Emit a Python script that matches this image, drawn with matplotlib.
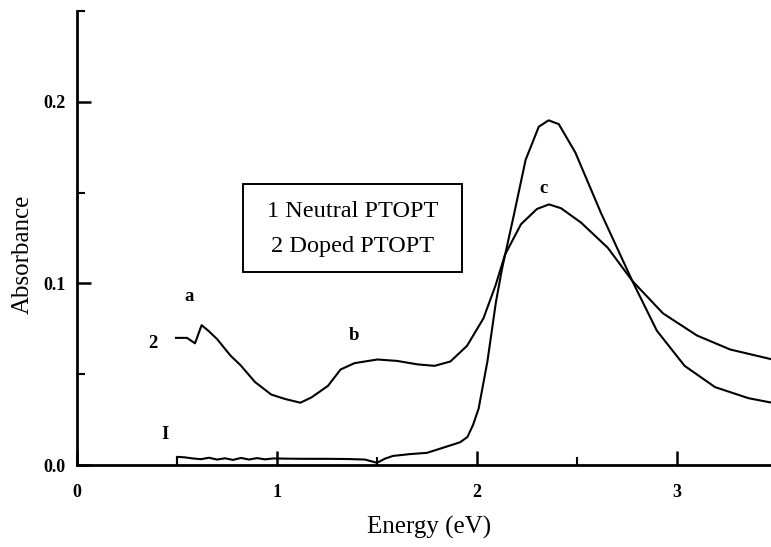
import matplotlib
matplotlib.use("Agg")
import matplotlib.pyplot as plt
from matplotlib.patches import Rectangle
from matplotlib.ticker import FixedLocator

# absorption spectra, energy in eV
neutral_x = [0.50, 0.50, 0.54, 0.58, 0.62, 0.66, 0.70, 0.74, 0.78, 0.82, 0.86, 0.90, 0.94,
             0.98, 1.05, 1.15, 1.25, 1.35, 1.44, 1.50, 1.54, 1.58, 1.665, 1.75, 1.83, 1.915,
             1.952, 1.98, 2.008, 2.052, 2.095, 2.126, 2.185, 2.243, 2.309, 2.358, 2.409,
             2.492, 2.619, 2.778, 2.899, 3.038, 3.19, 3.357, 3.47]
neutral_y = [0.0, 0.0045, 0.0042, 0.0036, 0.0032, 0.0040, 0.0030, 0.0037, 0.0028, 0.0039,
             0.0030, 0.0038, 0.0031, 0.0036, 0.0035, 0.0034, 0.0034, 0.0033, 0.0030, 0.0012,
             0.0035, 0.0050, 0.0060, 0.0067, 0.0095, 0.0125, 0.0154, 0.022, 0.031, 0.057,
             0.090, 0.1085, 0.138, 0.168, 0.1863, 0.1898, 0.1877, 0.172, 0.139, 0.101, 0.074,
             0.0546, 0.0429, 0.0368, 0.0344]

doped_x = [0.495, 0.55, 0.59, 0.623, 0.659, 0.70, 0.767, 0.818, 0.89, 0.971, 1.042, 1.117,
           1.172, 1.255, 1.318, 1.388, 1.502, 1.602, 1.703, 1.788, 1.867, 1.95, 2.032, 2.093,
           2.14, 2.22, 2.30, 2.36, 2.42, 2.52, 2.654, 2.778, 2.93, 3.10, 3.266, 3.47]
doped_y = [0.070, 0.070, 0.067, 0.077, 0.0737, 0.0694, 0.0603, 0.0549, 0.0457, 0.0388, 0.0363,
           0.0343, 0.0372, 0.0436, 0.0526, 0.0561, 0.0581, 0.0573, 0.0554, 0.0546, 0.057,
           0.0656, 0.0807, 0.099, 0.1158, 0.1326, 0.141, 0.1435, 0.1414, 0.1335, 0.1196,
           0.1012, 0.0835, 0.0713, 0.0636, 0.0583]

# curve tags placed next to the traces
tag_text = ["2", "a", "b", "c", "I"]
tag_x = [0.38, 0.56, 1.385, 2.33, 0.44]
tag_y = [0.067, 0.093, 0.0715, 0.152, 0.017]

legend_lines = ["1 Neutral PTOPT", "2 Doped PTOPT"]

x_major = [0, 1, 2, 3]
x_minor = [0.5, 1.5, 2.5]
y_major = [0.0, 0.1, 0.2]
y_minor = [0.05, 0.15, 0.25]

plt.rcParams['font.family'] = ['Liberation Serif', 'DejaVu Serif']

fig = plt.figure(figsize=(7.71, 5.47), dpi=100)
ax = fig.add_axes([77 / 771, 82 / 547, 694 / 771, 454 / 547])

ax.plot(neutral_x, neutral_y, color='black', lw=1.5)
ax.plot(doped_x, doped_y, color='black', lw=1.5)

for t, x, y in zip(tag_text, tag_x, tag_y):
  ax.text(x, y, t, ha='center', va='center', fontsize=13.5, fontweight='bold')

# boxed key
ax.add_patch(Rectangle((0.239, 0.425), 0.3156, 0.195, transform=ax.transAxes,
                       fc='white', ec='black', lw=1.4, zorder=3))
ax.text(0.397, 0.5575, legend_lines[0], transform=ax.transAxes,
        ha='center', va='center', fontsize=17.5, zorder=4)
ax.text(0.397, 0.482, legend_lines[1], transform=ax.transAxes,
        ha='center', va='center', fontsize=17.5, zorder=4)

ax.set_xlim(0, 3.47)
ax.set_ylim(0, 0.25)

ax.spines['top'].set_visible(False)
ax.spines['right'].set_visible(False)
ax.spines['left'].set_linewidth(2)
ax.spines['bottom'].set_linewidth(2)

ax.xaxis.set_major_locator(FixedLocator(x_major))
ax.xaxis.set_minor_locator(FixedLocator(x_minor))
ax.yaxis.set_major_locator(FixedLocator(y_major))
ax.yaxis.set_minor_locator(FixedLocator(y_minor))
ax.set_xticklabels([str(v) for v in x_major], fontweight='bold')
ax.set_yticklabels(["%.1f" % v for v in y_major], fontweight='bold')

ax.tick_params(which='major', direction='in', length=10, width=1.8, labelsize=13)
ax.tick_params(which='minor', direction='in', length=6, width=1.5)
ax.tick_params(axis='x', which='major', pad=14)
ax.tick_params(axis='y', which='major', pad=8)

ax.set_xlabel("Energy (eV)", fontsize=18, va='center')
ax.set_ylabel("Absorbance", fontsize=18, va='center')
ax.xaxis.set_label_coords(0.507, -0.137)
ax.yaxis.set_label_coords(-0.078, 0.465)

fig.savefig("out.png", dpi=100)
